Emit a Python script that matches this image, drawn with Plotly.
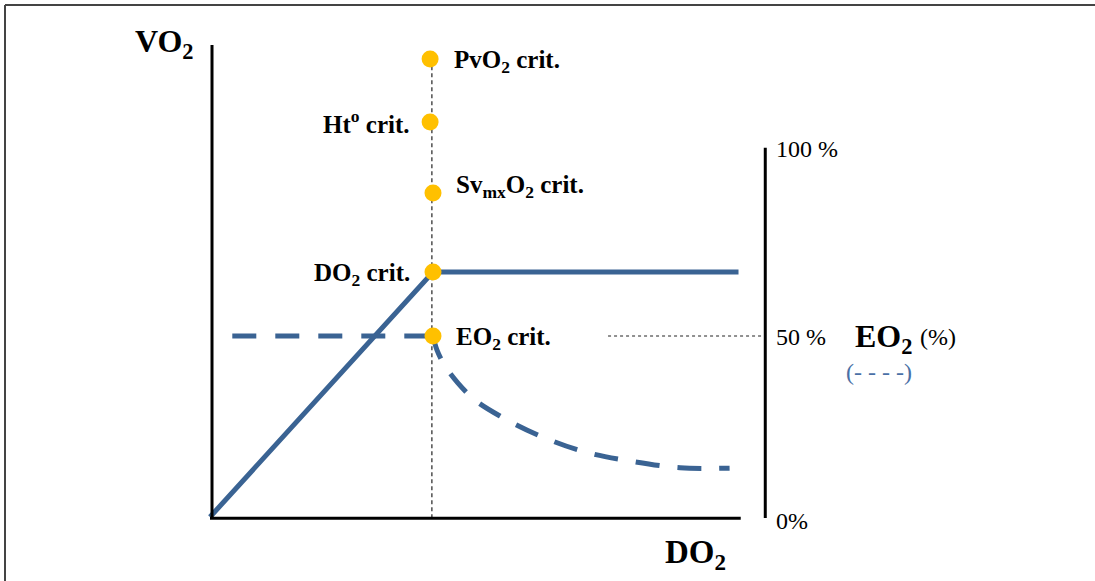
import plotly.graph_objects as go

# ---------------- data (schematic units) ----------------
# VO2 vs DO2 (left axis, arbitrary units; DO2 crit = 10)
do2_vo2 = [0, 10, 23.7]
vo2 = [0, 10, 10]

# EO2 (%) vs DO2 (right axis)
do2_eo2_flat = [1.0, 10]
eo2_flat = [50, 50]
do2_eo2_curve = [10, 10.18, 10.54, 11.12, 11.88, 13.0, 14.8, 16.82, 18.83, 21.08, 23.3]
eo2_curve = [50, 46.1, 41.7, 37.0, 32.3, 27.9, 22.4, 17.96, 15.47, 13.62, 13.5]

# critical points on the vertical DO2 crit line
crit_do2 = [9.87, 9.87, 10, 10]
crit_vo2 = [18.69, 16.12, 13.22, 10]
crit_labels = ["<b>PvO<sub>2</sub> crit.</b>", "<b>Ht<sup>o</sup> crit.</b>",
               "<b>Sv<sub>mx</sub>O<sub>2</sub> crit.</b>", "<b>DO<sub>2</sub> crit.</b>"]
eo2_crit_do2 = [10]
eo2_crit_val = [50]
eo2_crit_label = "<b>EO<sub>2</sub> crit.</b>"

eo2_ticks = [0, 50, 100]
eo2_tick_labels = ["0%", "50 %", "100 %"]

# ---------------- geometry helpers ----------------
W, H = 1095, 581
X0, SX = 210, 22.3      # pixel of DO2=0, px per unit
Y0, SY = 517, 24.5      # pixel of VO2=0, px per unit
SY2 = 3.62              # px per % EO2

def px(x):
    return x / W

def py(y):
    return 1 - y / H

BLUE = "#3A6393"
GOLD = "#FFC000"
FONT = "Liberation Serif"

fig = go.Figure()

fig.add_trace(go.Scatter(x=do2_vo2, y=vo2, mode="lines",
                         line=dict(color=BLUE, width=5), hoverinfo="skip"))
fig.add_trace(go.Scatter(x=do2_eo2_flat, y=eo2_flat, mode="lines", yaxis="y2",
                         line=dict(color=BLUE, width=5, dash="24px,19px"), hoverinfo="skip"))
fig.add_trace(go.Scatter(x=do2_eo2_curve, y=eo2_curve, mode="lines", yaxis="y2",
                         line=dict(color=BLUE, width=5, dash="24px,18px", shape="spline"),
                         hoverinfo="skip"))
fig.add_trace(go.Scatter(x=crit_do2, y=crit_vo2, mode="markers",
                         marker=dict(color=GOLD, size=17), hoverinfo="skip"))
fig.add_trace(go.Scatter(x=eo2_crit_do2, y=eo2_crit_val, mode="markers", yaxis="y2",
                         marker=dict(color=GOLD, size=17), hoverinfo="skip"))

xr = [(0 - X0) / SX, (W - X0) / SX]
yr = [(Y0 - H) / SY, Y0 / SY]
y2r = [(Y0 - H) / SY2, Y0 / SY2]

ax = dict(visible=False, showgrid=False, zeroline=False, fixedrange=True)
shapes = [
    # outer frame (top and left)
    dict(type="line", xref="paper", yref="paper", x0=px(5), y0=py(H + 5), x1=px(5), y1=py(5),
         line=dict(color="#444444", width=2)),
    dict(type="line", xref="paper", yref="paper", x0=px(5), y0=py(5), x1=px(W + 5), y1=py(5),
         line=dict(color="#444444", width=2)),
    # VO2 axis
    dict(type="line", xref="x", yref="y", x0=0.09, y0=-0.05, x1=0.09, y1=19.27,
         line=dict(color="black", width=3)),
    # DO2 axis
    dict(type="line", xref="x", yref="y", x0=0, y0=-0.05, x1=23.8, y1=-0.05,
         line=dict(color="black", width=3)),
    # EO2 axis (right)
    dict(type="line", xref="x", yref="y2", x0=24.9, y0=-0.3, x1=24.9, y1=102,
         line=dict(color="black", width=3)),
    # DO2 crit vertical dotted line
    dict(type="line", xref="x", yref="y", x0=9.95, y0=-0.05, x1=9.95, y1=18.86,
         line=dict(color="#222222", width=1.2, dash="4px,3px"), layer="below"),
    # 50% guide
    dict(type="line", xref="x", yref="y2", x0=17.85, y0=50, x1=24.8, y1=50,
         line=dict(color="#222222", width=1, dash="3px,3px")),
]

ann = []
def label(text, x, y, xanchor, size=25, color="black", xref="paper", yref="paper", **kw):
    ann.append(dict(text=text, x=x, y=y, xref=xref, yref=yref, xanchor=xanchor,
                    yanchor="middle", showarrow=False,
                    font=dict(family=FONT, size=size, color=color), **kw))

# critical point labels
label(crit_labels[0], crit_do2[0], crit_vo2[0], "left", xref="x", yref="y", xshift=22, yshift=-2)
label(crit_labels[1], crit_do2[1], crit_vo2[1], "right", xref="x", yref="y", xshift=-18)
label(crit_labels[2], crit_do2[2], crit_vo2[2], "left", xref="x", yref="y", xshift=21, yshift=7)
label(crit_labels[3], crit_do2[3], crit_vo2[3], "right", xref="x", yref="y", xshift=-21, yshift=-2)
label(eo2_crit_label, eo2_crit_do2[0], eo2_crit_val[0], "left", xref="x", yref="y2", xshift=21, yshift=-2)

# right axis tick labels
for v, t in zip(eo2_ticks, eo2_tick_labels):
    shift = {0: -4, 50: -1, 100: 6}[v]
    label(t, 25.3, v, "left", size=24, xref="x", yref="y2", yshift=shift)

# axis titles
label("<b>VO<sub>2</sub></b>", px(133), py(44), "left", size=32)
label("<b>DO<sub>2</sub></b>", px(663), py(554), "left", size=33)
label("<b>EO<sub>2</sub></b>", px(853), py(338), "left", size=32)
label("(%)", px(918), py(337), "left", size=24)
label("(- - - -)", px(844), py(372), "left", size=24, color="#4A70A6")

fig.update_layout(
    width=W, height=H,
    margin=dict(l=0, r=0, t=0, b=0),
    paper_bgcolor="white", plot_bgcolor="white",
    showlegend=False,
    xaxis=dict(range=xr, **ax),
    yaxis=dict(range=yr, **ax),
    yaxis2=dict(range=y2r, overlaying="y", **ax),
    shapes=shapes,
    annotations=ann,
)

fig.write_html("out.html", config={"displayModeBar": False},
               post_script="document.body.style.margin='0';")
